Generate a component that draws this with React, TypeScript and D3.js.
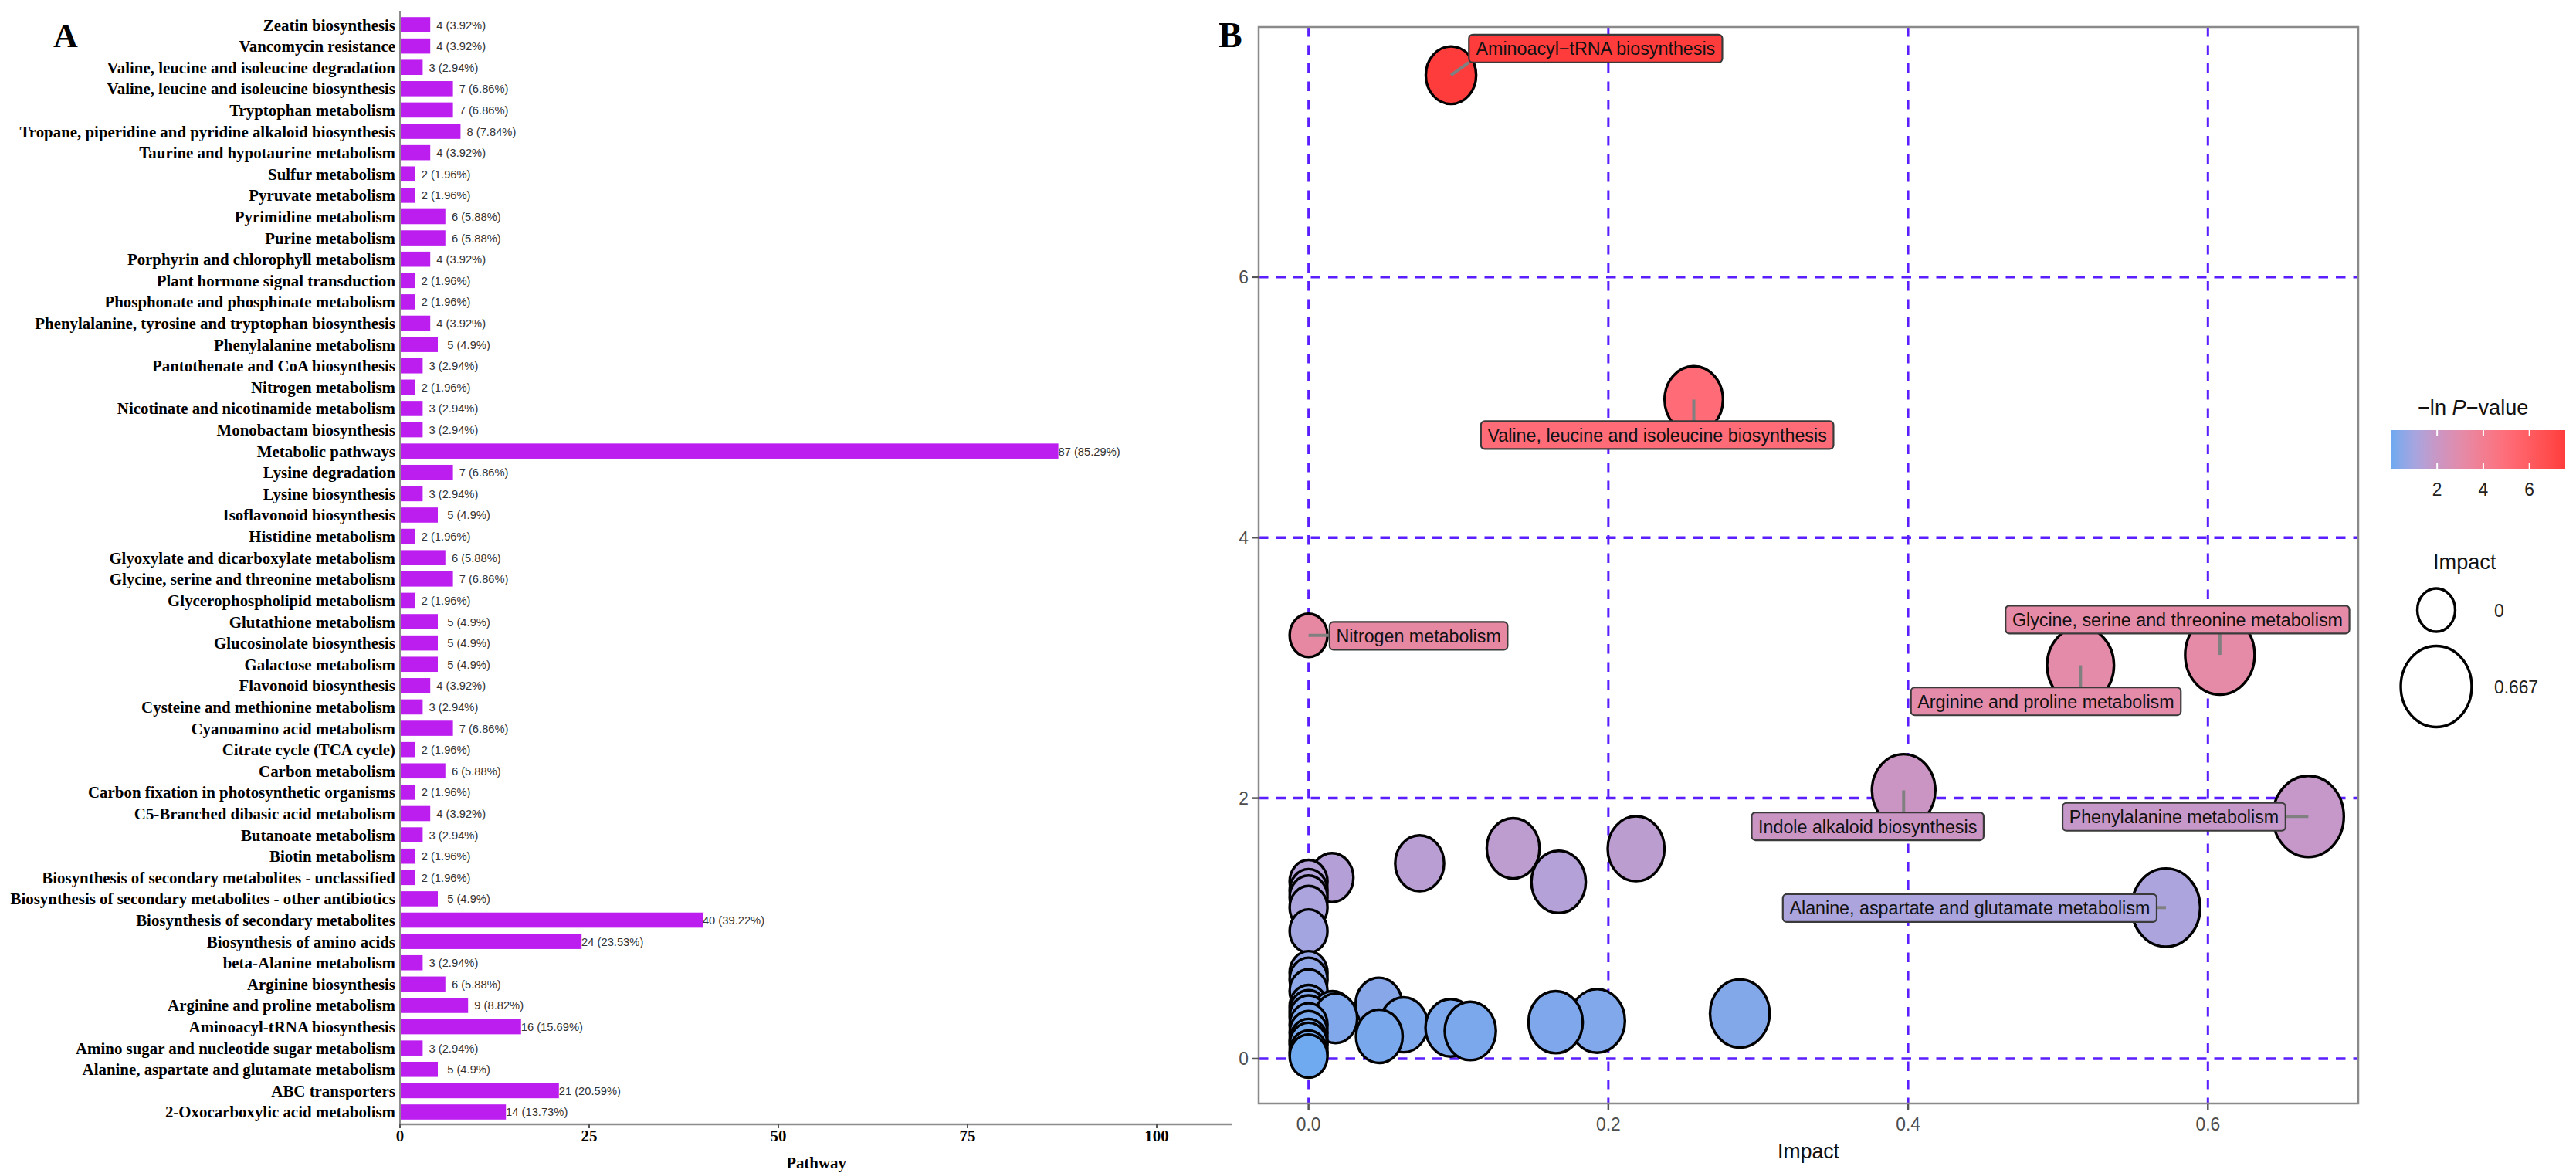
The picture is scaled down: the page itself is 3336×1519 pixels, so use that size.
import React from "react";
import * as d3 from "d3";

// ---------------- Panel A data ----------------
const pathways: string[] = [
  "Zeatin biosynthesis",
  "Vancomycin resistance",
  "Valine, leucine and isoleucine degradation",
  "Valine, leucine and isoleucine biosynthesis",
  "Tryptophan metabolism",
  "Tropane, piperidine and pyridine alkaloid biosynthesis",
  "Taurine and hypotaurine metabolism",
  "Sulfur metabolism",
  "Pyruvate metabolism",
  "Pyrimidine metabolism",
  "Purine metabolism",
  "Porphyrin and chlorophyll metabolism",
  "Plant hormone signal transduction",
  "Phosphonate and phosphinate metabolism",
  "Phenylalanine, tyrosine and tryptophan biosynthesis",
  "Phenylalanine metabolism",
  "Pantothenate and CoA biosynthesis",
  "Nitrogen metabolism",
  "Nicotinate and nicotinamide metabolism",
  "Monobactam biosynthesis",
  "Metabolic pathways",
  "Lysine degradation",
  "Lysine biosynthesis",
  "Isoflavonoid biosynthesis",
  "Histidine metabolism",
  "Glyoxylate and dicarboxylate metabolism",
  "Glycine, serine and threonine metabolism",
  "Glycerophospholipid metabolism",
  "Glutathione metabolism",
  "Glucosinolate biosynthesis",
  "Galactose metabolism",
  "Flavonoid biosynthesis",
  "Cysteine and methionine metabolism",
  "Cyanoamino acid metabolism",
  "Citrate cycle (TCA cycle)",
  "Carbon metabolism",
  "Carbon fixation in photosynthetic organisms",
  "C5-Branched dibasic acid metabolism",
  "Butanoate metabolism",
  "Biotin metabolism",
  "Biosynthesis of secondary metabolites - unclassified",
  "Biosynthesis of secondary metabolites - other antibiotics",
  "Biosynthesis of secondary metabolites",
  "Biosynthesis of amino acids",
  "beta-Alanine metabolism",
  "Arginine biosynthesis",
  "Arginine and proline metabolism",
  "Aminoacyl-tRNA biosynthesis",
  "Amino sugar and nucleotide sugar metabolism",
  "Alanine, aspartate and glutamate metabolism",
  "ABC transporters",
  "2-Oxocarboxylic acid metabolism",
];
const geneCounts: number[] = [
  4, 4, 3, 7, 7, 8, 4, 2, 2, 6, 6, 4, 2, 2, 4, 5, 3, 2, 3, 3, 87, 7, 3, 5, 2, 6,
  7, 2, 5, 5, 5, 4, 3, 7, 2, 6, 2, 4, 3, 2, 2, 5, 40, 24, 3, 6, 9, 16, 3, 5, 21, 14,
];
const genePercents: string[] = [
  "3.92", "3.92", "2.94", "6.86", "6.86", "7.84", "3.92", "1.96", "1.96", "5.88",
  "5.88", "3.92", "1.96", "1.96", "3.92", "4.9", "2.94", "1.96", "2.94", "2.94",
  "85.29", "6.86", "2.94", "4.9", "1.96", "5.88", "6.86", "1.96", "4.9", "4.9",
  "4.9", "3.92", "2.94", "6.86", "1.96", "5.88", "1.96", "3.92", "2.94", "1.96",
  "1.96", "4.9", "39.22", "23.53", "2.94", "5.88", "8.82", "15.69", "2.94", "4.9",
  "20.59", "13.73",
];
const countTicks: number[] = [0, 25, 50, 75, 100];

// ---------------- Panel B data ----------------
const metNames: string[] = [
  "Aminoacyl−tRNA biosynthesis",
  "Valine, leucine and isoleucine biosynthesis",
  "Nitrogen metabolism",
  "Glycine, serine and threonine metabolism",
  "Arginine and proline metabolism",
  "Indole alkaloid biosynthesis",
  "Phenylalanine metabolism",
  "Alanine, aspartate and glutamate metabolism",
  "", "", "", "", "", "", "", "", "", "",
  "", "", "", "", "", "", "", "", "", "", "", "",
  "", "", "", "", "", "", "", "", "", "",
];
const metImpact: number[] = [
  0.095, 0.257, 0.0, 0.608, 0.515, 0.397, 0.667, 0.572,
  0.0156, 0.0, 0.0, 0.0, 0.0, 0.0, 0.0741, 0.1365, 0.1668, 0.2185,
  0.0, 0.0, 0.0, 0.0, 0.0, 0.0, 0.0, 0.0, 0.0, 0.0, 0.0, 0.0,
  0.016, 0.018, 0.0469, 0.0472, 0.0634, 0.0948, 0.1079, 0.1648, 0.1925, 0.2877,
];
const metLnP: number[] = [
  7.55, 5.06, 3.25, 3.1, 3.02, 2.06, 1.86, 1.16,
  1.39, 1.36, 1.29, 1.24, 1.16, 0.98, 1.5, 1.615, 1.357, 1.612,
  0.66, 0.61, 0.52, 0.4, 0.36, 0.32, 0.26, 0.2, 0.14, 0.11, 0.05, 0.02,
  0.33, 0.31, 0.417, 0.172, 0.26, 0.237, 0.213, 0.28, 0.29, 0.347,
];
// repelled label anchors (data coordinates) for the named pathways
const labelImpact: number[] = [0.1915, 0.2326, 0.0734, 0.5797, 0.4919, 0.373, 0.5774, 0.4411];
const labelLnP: number[] = [7.755, 4.788, 3.246, 3.371, 2.743, 1.784, 1.857, 1.156];

const impactTicks: number[] = [0, 0.2, 0.4, 0.6];
const lnpTicks: number[] = [0, 2, 4, 6];
const colorTicks: number[] = [2, 4, 6];
const sizeBreaks: number[] = [0, 0.667];
const sizeBreakLabels: string[] = ["0", "0.667"];

// colour ramp (fraction of the -ln P range -> colour)
const rampStops: number[] = [0, 0.15, 0.27, 0.41, 0.67, 1];
const rampColors: string[] = ["#6FA9F0", "#ABA4DD", "#CB95C3", "#E58AA7", "#FF6C77", "#FF3C3C"];

// ---------------- helpers ----------------
const SERIF = "'Liberation Serif', 'Times New Roman', serif";
const SANS = "'Liberation Sans', Arial, Helvetica, sans-serif";

let _ctx: CanvasRenderingContext2D | null = null;
function measure(s: string, font: string): number {
  if (!_ctx) _ctx = document.createElement("canvas").getContext("2d");
  if (!_ctx) return s.length * 12;
  _ctx.font = font;
  return _ctx.measureText(s).width;
}

type TProps = {
  x: number;
  y: number;
  sx?: number;
  anchor?: "start" | "middle" | "end";
  size: number;
  family?: string;
  weight?: string | number;
  fill?: string;
  children: React.ReactNode;
};
const T = ({ x, y, sx = 0.95, anchor = "start", size, family = SANS, weight = "normal", fill = "#000", children }: TProps) => (
  <text
    transform={`translate(${x},${y}) scale(${sx},1)`}
    textAnchor={anchor}
    fontSize={size}
    fontFamily={family}
    fontWeight={weight}
    fill={fill}
  >
    {children}
  </text>
);

export default function App() {
  const W = 3336;
  const H = 1519;

  // ---------- Panel A scales ----------
  const xA = d3.scaleLinear().domain([0, 110]).range([518, 1596]);
  const yA = d3
    .scaleBand<string>()
    .domain(pathways)
    .range([18.2, 1453.8])
    .paddingInner(0.29)
    .paddingOuter(0.145);
  const axisYA = 1456;

  // ---------- Panel B scales ----------
  const px0 = 1630, px1 = 3054, py0 = 35, py1 = 1429;
  const xB = d3.scaleLinear().domain([-0.0333, 0.7003]).range([px0, px1]);
  const yB = d3.scaleLinear().domain([-0.344, 7.92]).range([py1, py0]);
  const lnpExtent = d3.extent(metLnP) as [number, number];
  const frac = d3.scaleLinear().domain(lnpExtent).range([0, 1]);
  const ramp = d3
    .scaleLinear<string>()
    .domain(rampStops)
    .range(rampColors)
    .interpolate(d3.interpolateLab)
    .clamp(true);
  const color = (v: number) => ramp(frac(v));
  const ry = d3.scaleSqrt().domain([0, 0.667]).range([28, 52.5]);
  const ASPECT = 0.875;

  const order = d3.range(metNames.length).sort((a, b) => metLnP[b] - metLnP[a]);

  const labelFont = 24;
  const labelSx = 0.97;
  const labels = metNames
    .map((name, i) => ({ name, i }))
    .filter((d) => d.name !== "")
    .map((d, k) => {
      const tw = measure(d.name, `${labelFont}px ${SANS}`) * labelSx;
      const w = tw + 17;
      const h = 36;
      const cx = xB(labelImpact[k]);
      const cy = yB(labelLnP[k]);
      const bx = cx - w / 2, by = cy - h / 2;
      const ptx = xB(metImpact[d.i]);
      const pty = yB(metLnP[d.i]);
      const ex = Math.max(bx, Math.min(bx + w, ptx));
      const ey = Math.max(by, Math.min(by + h, pty));
      return { ...d, cx, cy, bx, by, w, h, ptx, pty, ex, ey, fill: color(metLnP[d.i]) };
    });

  // colorbar
  const cb = d3.scaleLinear().domain(lnpExtent).range([3097, 3322]);
  const cbTop = 557, cbBot = 607;
  const gradStops = d3.range(0, 1.0001, 0.05);

  const gridColor = "#5A1EFF";

  return (
    <svg
      width={W}
      height={H}
      viewBox={`0 0 ${W} ${H}`}
      style={{ position: "absolute", left: 0, top: 0, background: "#fff", display: "block" }}
    >
      <defs>
        <linearGradient id="cbgrad" x1="0" x2="1" y1="0" y2="0">
          {gradStops.map((t, i) => (
            <stop key={i} offset={t} stopColor={ramp(t)} />
          ))}
        </linearGradient>
      </defs>
      <rect x={0} y={0} width={W} height={H} fill="#fff" />

      {/* ================= Panel A ================= */}
      <T x={69} y={61} size={44} family={SERIF} weight="bold" sx={1}>A</T>

      {pathways.map((p, i) => {
        const y = yA(p)!;
        const bw = yA.bandwidth();
        const v = geneCounts[i];
        return (
          <g key={p}>
            <rect x={xA(0)} y={y} width={xA(v) - xA(0)} height={bw} fill="#BC1EF0" />
            <T x={xA(0) - 6} y={y + bw / 2 + 7.5} anchor="end" size={22} family={SERIF} weight="bold">
              {p}
            </T>
            <T x={xA(v) + 40} y={y + bw / 2 + 5.5} anchor="middle" size={15.5} fill="#333">
              {`${v} (${genePercents[i]}%)`}
            </T>
          </g>
        );
      })}
      {/* axes */}
      <line x1={xA(0)} x2={xA(0)} y1={14} y2={axisYA} stroke="#8c8c8c" strokeWidth={2} />
      <line x1={xA(0)} x2={xA(110)} y1={axisYA} y2={axisYA} stroke="#8c8c8c" strokeWidth={2.5} />
      {countTicks.map((t) => (
        <g key={t}>
          <line x1={xA(t)} x2={xA(t)} y1={axisYA} y2={axisYA + 5} stroke="#555" strokeWidth={2} />
          <T x={xA(t)} y={1478} anchor="middle" size={22} family={SERIF} weight="bold">
            {t}
          </T>
        </g>
      ))}
      <T x={(xA(0) + xA(110)) / 2} y={1513} anchor="middle" size={22} family={SERIF} weight="bold">
        Pathway
      </T>

      {/* ================= Panel B ================= */}
      <T x={1578} y={61} size={46} family={SERIF} weight="bold" sx={1}>B</T>

      {/* grid */}
      {lnpTicks.map((t) => (
        <line key={`h${t}`} x1={px0} x2={px1} y1={yB(t)} y2={yB(t)} stroke={gridColor} strokeWidth={3.5} strokeDasharray="12.5 10" />
      ))}
      {impactTicks.map((t) => (
        <line key={`v${t}`} x1={xB(t)} x2={xB(t)} y1={py0} y2={py1} stroke={gridColor} strokeWidth={3} strokeDasharray="12.5 11" />
      ))}

      {/* bubbles */}
      {order.map((i) => {
        const r = ry(metImpact[i]);
        return (
          <ellipse
            key={i}
            cx={xB(metImpact[i])}
            cy={yB(metLnP[i])}
            rx={r * ASPECT}
            ry={r}
            fill={color(metLnP[i])}
            stroke="#000"
            strokeWidth={3.4}
          />
        );
      })}

      {/* repel segments & labels */}
      {labels.map((l) => (
        <line key={`s${l.i}`} x1={l.ptx} y1={l.pty} x2={l.ex} y2={l.ey} stroke="#808080" strokeWidth={4} />
      ))}
      {labels.map((l) => (
        <g key={`l${l.i}`}>
          <rect x={l.bx} y={l.by} width={l.w} height={l.h} rx={5} ry={5} fill={l.fill} stroke="#3a3a3a" strokeWidth={2.2} />
          <T x={l.cx} y={l.cy + 8.5} anchor="middle" size={labelFont} sx={labelSx} fill="#111">
            {l.name}
          </T>
        </g>
      ))}

      {/* panel border */}
      <rect x={px0} y={py0} width={px1 - px0} height={py1 - py0} fill="none" stroke="#8a8a8a" strokeWidth={2.5} />

      {/* axes ticks & labels */}
      {lnpTicks.map((t) => (
        <g key={`yt${t}`}>
          <line x1={px0 - 8} x2={px0} y1={yB(t)} y2={yB(t)} stroke="#555" strokeWidth={2.5} />
          <T x={px0 - 13} y={yB(t) + 8.5} anchor="end" size={24} fill="#4d4d4d">
            {t}
          </T>
        </g>
      ))}
      {impactTicks.map((t) => (
        <g key={`xt${t}`}>
          <line x1={xB(t)} x2={xB(t)} y1={py1} y2={py1 + 8} stroke="#555" strokeWidth={2.5} />
          <T x={xB(t)} y={1464} anchor="middle" size={24} fill="#4d4d4d">
            {d3.format(".1f")(t)}
          </T>
        </g>
      ))}
      <T x={(px0 + px1) / 2} y={1500} anchor="middle" size={28} fill="#111">
        Impact
      </T>

      {/* legend: colour */}
      <text transform={`translate(3131,537) scale(0.97,1)`} fontSize={28} fontFamily={SANS} fill="#111">
        −ln <tspan fontStyle="italic">P</tspan>−value
      </text>
      <rect x={cb.range()[0]} y={cbTop} width={cb.range()[1] - cb.range()[0]} height={cbBot - cbTop} fill="url(#cbgrad)" />
      {colorTicks.map((t) => (
        <g key={`ct${t}`}>
          <line x1={cb(t)} x2={cb(t)} y1={cbTop} y2={cbTop + 8} stroke="#fff" strokeWidth={2} />
          <line x1={cb(t)} x2={cb(t)} y1={cbBot - 8} y2={cbBot} stroke="#fff" strokeWidth={2} />
          <T x={cb(t)} y={642} anchor="middle" size={24} fill="#222">
            {t}
          </T>
        </g>
      ))}

      {/* legend: size */}
      <T x={3151} y={737} size={28} sx={0.97} fill="#111">
        Impact
      </T>
      {sizeBreaks.map((b, k) => {
        const cy = k === 0 ? 790 : 889;
        const r = ry(b);
        return (
          <g key={`sb${k}`}>
            <ellipse cx={3155} cy={cy} rx={r * ASPECT} ry={r} fill="#fff" stroke="#000" strokeWidth={3.4} />
            <T x={3230} y={cy + 9} size={24} fill="#222">
              {sizeBreakLabels[k]}
            </T>
          </g>
        );
      })}
    </svg>
  );
}
